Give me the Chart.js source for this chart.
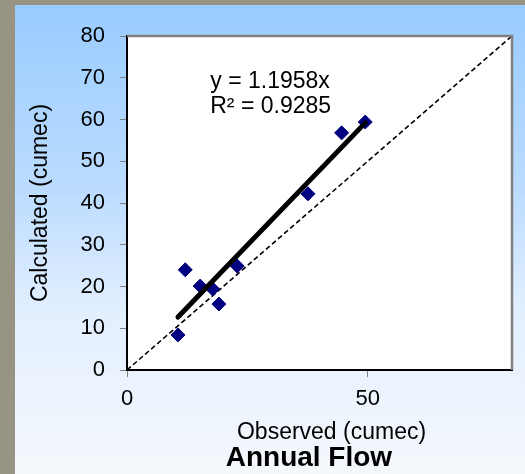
<!DOCTYPE html>
<html>
<head>
<meta charset="utf-8">
<script src="https://cdn.jsdelivr.net/npm/chart.js@4"></script>
<style>
  body { margin: 0; background: #979484; width: 525px; height: 474px; overflow: hidden; }
  #panel {
    position: absolute; left: 15px; top: 5px; width: 510px; height: 469px;
    background: linear-gradient(to bottom, #99ccff 0%, #bcdcff 40%, #e2efff 65%, #f5f8fc 100%);
  }
</style>
</head>
<body>
<div id="panel"><canvas id="grafico" width="510" height="469"></canvas></div>
<script>
// Dados =====================================================================

const observed = [10.6, 12.1, 15.2, 17.8, 19.1, 22.9, 37.6, 44.6, 49.5];
const calculated = [8.4, 24.0, 20.1, 19.4, 15.8, 24.9, 42.2, 56.8, 59.4];
const slope = 1.1958;
const r2 = 0.9285;
const xTicks = [0, 50];
const yTicks = [0, 10, 20, 30, 40, 50, 60, 70, 80];
const oneToOne = [0, 80];

// Séries =====================================================================

const points = observed.map((v, i) => ({ x: v, y: calculated[i] }));
const xMin = Math.min(...observed);
const xMax = Math.max(...observed);
const trend = [
  { x: xMin, y: slope * xMin },
  { x: xMax, y: slope * xMax },
];
const diagonal = oneToOne.map((v) => ({ x: v, y: v }));

const data = {
  datasets: [
    {
      label: "Tendência",
      type: "line",
      data: trend,
      borderColor: "#000000",
      borderWidth: 5,
      borderCapStyle: "round",
      pointRadius: 0,
      fill: false,
    },
    {
      label: "Annual Flow",
      data: points,
      pointStyle: "rectRot",
      pointRadius: 7,
      pointHoverRadius: 7,
      backgroundColor: "#000080",
      borderColor: "#000080",
      borderWidth: 1,
    },
    {
      label: "1:1",
      type: "line",
      data: diagonal,
      borderColor: "#000000",
      borderWidth: 1.6,
      borderDash: [5, 3],
      pointRadius: 0,
      fill: false,
    },
  ],
};

// Plugin: fundo branco, borda e textos ========================================

const extras = {
  id: "extras",
  beforeDraw(chart) {
    const { ctx, chartArea: a } = chart;
    ctx.save();
    ctx.fillStyle = "#ffffff";
    ctx.fillRect(a.left, a.top, a.right - a.left, a.bottom - a.top);
    ctx.restore();
  },
  afterDraw(chart) {
    const { ctx, chartArea: a } = chart;
    const x = chart.scales.x;
    const y = chart.scales.y;
    ctx.save();
    // borda cinza em cima e à direita
    ctx.strokeStyle = "#808080";
    ctx.lineWidth = 2.5;
    ctx.beginPath();
    ctx.moveTo(a.left, a.top);
    ctx.lineTo(a.right, a.top);
    ctx.lineTo(a.right, a.bottom);
    ctx.stroke();

    ctx.fillStyle = "#000000";
    ctx.textBaseline = "middle";
    ctx.textAlign = "left";
    ctx.font = "23px 'Liberation Sans', Arial, sans-serif";
    const tx = x.getPixelForValue(17.3);
    ctx.fillText("y = " + slope.toFixed(4) + "x", tx, y.getPixelForValue(69.0));
    ctx.fillText("R\u00B2 = " + r2.toFixed(4), tx, y.getPixelForValue(63.0));

    ctx.textAlign = "center";
    ctx.fillText("Observed (cumec)", x.getPixelForValue(42.5), 428);
    ctx.font = "bold 28px 'Liberation Sans', Arial, sans-serif";
    ctx.fillText("Annual Flow", x.getPixelForValue(37.8), 453);
    ctx.restore();
  },
};

// Configuração =====================================================================

const config = {
  type: "scatter",
  data: data,
  options: {
    responsive: false,
    animation: false,
    layout: { padding: { left: 0, top: 31, right: 13, bottom: 0 } },
    plugins: {
      legend: { display: false },
      tooltip: { enabled: false },
    },
    scales: {
      x: {
        type: "linear",
        min: 0,
        max: 80,
        afterFit: (s) => { s.height = 104; },
        afterBuildTicks: (s) => { s.ticks = xTicks.map((v) => ({ value: v })); },
        ticks: {
          color: "#000000",
          padding: 9,
          font: { family: "'Liberation Sans', Arial, sans-serif", size: 22 },
        },
        grid: { drawOnChartArea: false, tickLength: 7, color: "#808080" },
        border: { color: "#000000", width: 2 },
      },
      y: {
        type: "linear",
        min: 0,
        max: 80,
        afterFit: (s) => { s.width = 112; },
        afterBuildTicks: (s) => { s.ticks = yTicks.map((v) => ({ value: v })); },
        ticks: {
          color: "#000000",
          padding: 15,
          font: { family: "'Liberation Sans', Arial, sans-serif", size: 22 },
        },
        grid: { drawOnChartArea: false, tickLength: 7, color: "#808080" },
        border: { color: "#000000", width: 2 },
        title: {
          display: true,
          text: "Calculated (cumec)",
          color: "#000000",
          padding: { top: 12, bottom: 0 },
          font: { family: "'Liberation Sans', Arial, sans-serif", size: 23 },
        },
      },
    },
  },
  plugins: [extras],
};

const grafico = new Chart(document.getElementById("grafico"), config);
</script>
</body>
</html>
